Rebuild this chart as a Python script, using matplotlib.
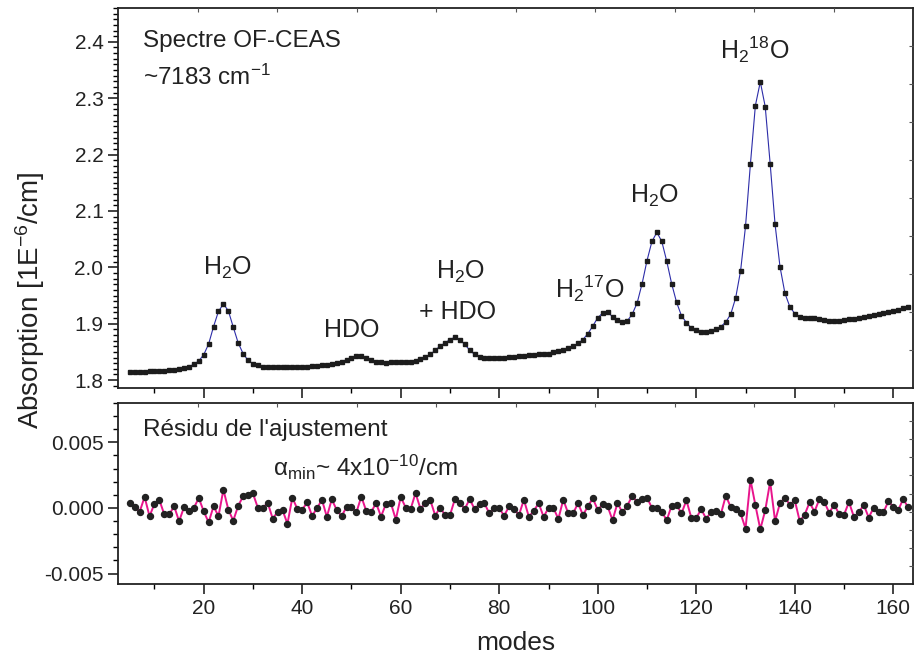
import numpy as np
import matplotlib
matplotlib.use("Agg")
import matplotlib.pyplot as plt
from matplotlib.ticker import MultipleLocator, FormatStrFormatter

plt.rcParams["font.family"] = ["Liberation Sans", "DejaVu Sans"]
plt.rcParams["mathtext.fontset"] = "custom"
plt.rcParams["mathtext.rm"] = "Liberation Sans"
plt.rcParams["mathtext.it"] = "Liberation Sans:italic"
plt.rcParams["axes.unicode_minus"] = False

# Spectrum (one point per cavity mode, starting at mode 5)
first_mode = 5
absorption = [
    1.814, 1.814, 1.815, 1.815, 1.816, 1.8165, 1.817, 1.817, 1.8175, 1.818,
    1.819, 1.821, 1.824, 1.828, 1.834, 1.845, 1.864, 1.895, 1.922, 1.935,
    1.923, 1.894, 1.866, 1.847, 1.835, 1.829, 1.826, 1.824, 1.823, 1.8225,
    1.8225, 1.8225, 1.8225, 1.8235, 1.824, 1.824, 1.824, 1.825, 1.825, 1.826,
    1.8265, 1.828, 1.8305, 1.833, 1.836, 1.840, 1.842, 1.842, 1.839, 1.836,
    1.833, 1.832, 1.831, 1.8315, 1.8315, 1.8315, 1.832, 1.833, 1.8345, 1.8375,
    1.8415, 1.8455, 1.853, 1.8605, 1.866, 1.872, 1.876, 1.871, 1.8635, 1.853,
    1.8455, 1.8415, 1.8395, 1.8395, 1.8395, 1.8395, 1.8395, 1.841, 1.8415, 1.842,
    1.843, 1.844, 1.845, 1.8455, 1.846, 1.847, 1.849, 1.8513, 1.853, 1.8565,
    1.8605, 1.865, 1.872, 1.8825, 1.896, 1.9107, 1.919, 1.9205, 1.9125, 1.9067,
    1.9026, 1.905, 1.917, 1.937, 1.971, 2.012, 2.046, 2.062, 2.046, 2.011,
    1.971, 1.938, 1.914, 1.902, 1.892, 1.888, 1.885, 1.885, 1.887, 1.890,
    1.895, 1.903, 1.917, 1.946, 1.994, 2.073, 2.184, 2.287, 2.329, 2.285,
    2.184, 2.076, 2.001, 1.954, 1.930, 1.918, 1.912, 1.911, 1.911, 1.910,
    1.9085, 1.907, 1.9055, 1.905, 1.904, 1.907, 1.908, 1.909, 1.911, 1.912,
    1.914, 1.915, 1.9165, 1.919, 1.921, 1.923, 1.925, 1.928, 1.930,
]

# Fit residual, in units of 1e-3 (same modes)
residual_e3 = [
    0.39, 0.05, -0.29, 0.84, -0.63, 0.31, 0.60, -0.50, -0.50, 0.13,
    -1.02, 0.05, -0.26, 0.00, 0.76, -0.26, -1.10, 0.13, -0.63, 1.39,
    -0.13, -0.97, 0.16, 0.89, 1.02, 1.10, 0.00, 0.00, 0.39, -0.81,
    -0.31, -0.16, -1.21, 0.79, -0.08, -0.13, 0.42, -0.60, -0.03, 0.63,
    -0.68, 0.66, -0.16, -0.63, 0.08, 0.08, -0.34, 0.87, -0.24, -0.31,
    0.37, -0.66, 0.31, 0.37, -0.89, 0.84, 0.03, -0.10, 1.13, -0.05,
    0.37, 0.60, -0.58, 0.03, -0.55, -0.55, 0.68, 0.37, -0.08, 0.68,
    -0.10, 0.31, 0.34, -0.42, -0.03, -0.03, -0.60, 0.13, -0.05, -0.55,
    0.63, -0.66, -0.24, 0.37, -0.68, 0.00, 0.00, -0.84, 0.63, -0.42,
    -0.42, 0.37, -0.55, 0.13, 0.73, -0.16, 0.29, 0.13, -0.94, 0.37,
    -0.34, 0.18, 0.92, 0.45, 0.68, 0.79, 0.00, 0.00, -0.29, -0.94,
    0.18, 0.24, -0.42, 0.58, -0.76, -0.76, -0.10, -0.81, -0.34, -0.24,
    -0.47, 0.94, 0.05, -0.10, -0.42, -1.57, 2.15, 0.21, -1.63, -0.18,
    1.99, -1.00, 0.37, 0.79, 0.24, 0.58, -1.00, -0.52, 0.42, -0.29,
    0.68, 0.45, -0.37, 0.26, -0.47, -0.52, 0.45, -0.68, -0.34, 0.24,
    -0.73, 0.00, -0.34, -0.34, 0.50, 0.10, -0.18, 0.68, 0.05,
]

modes = np.arange(first_mode, first_mode + len(absorption))
residual = np.array(residual_e3) * 1e-3

# peak labels: (text, mode, absorption)
peak_labels = [
    ("H$_2$O", 24.9, 1.999),
    ("HDO", 50.0, 1.889),
    ("H$_2$O", 72.1, 1.992),
    ("+ HDO", 71.5, 1.921),
    ("H$_2$$^{17}$O", 98.3, 1.963),
    ("H$_2$O", 111.5, 2.127),
    ("H$_2$$^{18}$O", 131.8, 2.386),
]

W, H = 916, 657
fig = plt.figure(figsize=(W / 100, H / 100), dpi=100)
ax1 = fig.add_axes([118 / W, 1 - 388 / H, 795 / W, 380 / H])
ax2 = fig.add_axes([118 / W, 1 - 584 / H, 795 / W, 181 / H])

ax1.plot(modes, absorption, color="#2c2ca8", lw=0.8, marker="s", ms=3.3,
         mfc="#1c1c1c", mec="#1c1c1c")
ax2.plot(modes, residual, color="#e8158c", lw=1.4, marker="o", ms=4.3,
         mfc="#222222", mec="#222222")

for ax in (ax1, ax2):
    ax.set_xlim(2.6, 164)
    ax.xaxis.set_major_locator(MultipleLocator(20))
    ax.xaxis.set_minor_locator(MultipleLocator(10))
    ax.tick_params(which="major", direction="out", length=7, width=1.2,
                   labelsize=15, colors="#222222")
    ax.tick_params(which="minor", direction="out", length=3.5, width=1.0)
    for s in ax.spines.values():
        s.set_linewidth(1.3)
        s.set_color("#222222")
    # small inner ticks on the top and right edges (every tenth of the frame)
    axt = ax.twiny()
    axt.set_xlim(0, 1)
    axt.set_xticks(np.arange(0.1, 0.95, 0.1))
    axt.tick_params(axis="x", direction="in", length=3, width=0.8,
                    labeltop=False, colors="#555555")
    axr = ax.twinx()
    axr.set_ylim(0, 1)
    axr.set_yticks(np.arange(0.1, 0.95, 0.1))
    axr.tick_params(axis="y", direction="in", length=3, width=0.8,
                    labelright=False, colors="#555555")
    for a in (axt, axr):
        for s in a.spines.values():
            s.set_visible(False)

ax1.set_ylim(1.786, 2.46)
ax1.yaxis.set_major_locator(MultipleLocator(0.1))
ax1.yaxis.set_minor_locator(MultipleLocator(0.01))
ax1.yaxis.set_major_formatter(FormatStrFormatter("%.1f"))
ax1.tick_params(axis="x", labelbottom=False)

ax2.set_ylim(-0.0058, 0.0080)
ax2.yaxis.set_major_locator(MultipleLocator(0.005))
ax2.yaxis.set_minor_locator(MultipleLocator(0.001))
ax2.yaxis.set_major_formatter(FormatStrFormatter("%.3f"))
ax2.set_xlabel("modes", fontsize=19, color="#222222", labelpad=10)

fig.text(30 / W, 1 - 300 / H, "Absorption [1E$^{-6}$/cm]", rotation=90,
         ha="center", va="center", fontsize=20, color="#222222")

for label, xm, ym in peak_labels:
    ax1.text(xm, ym, label, ha="center", va="center", fontsize=18,
             color="#222222")

ax1.text(0.031, 0.913, "Spectre OF-CEAS", transform=ax1.transAxes,
         ha="left", va="center", fontsize=17.5, color="#222222")
ax1.text(0.031, 0.818, "~7183 cm$^{-1}$", transform=ax1.transAxes,
         ha="left", va="center", fontsize=17.5, color="#222222")
ax2.text(0.031, 0.851, "Résidu de l'ajustement", transform=ax2.transAxes,
         ha="left", va="center", fontsize=17.5, color="#222222")
ax2.text(0.195, 0.646, "α$_{\\mathrm{min}}$~ 4x10$^{-10}$/cm",
         transform=ax2.transAxes, ha="left", va="center", fontsize=17.5,
         color="#222222")

fig.savefig("out.png", dpi=100)
